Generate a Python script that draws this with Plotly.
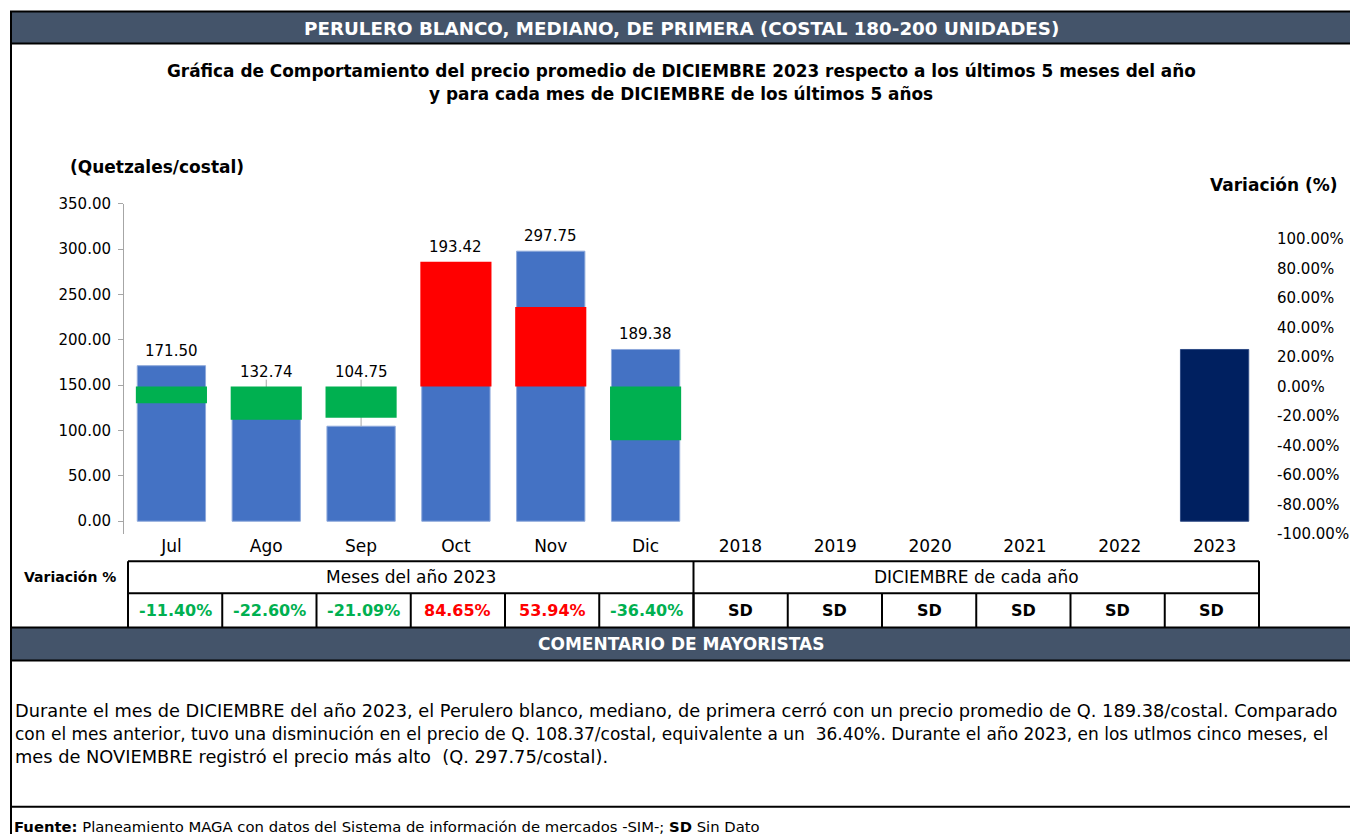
import plotly.graph_objects as go

# ---------------- data ----------------
categories = ["Jul", "Ago", "Sep", "Oct", "Nov", "Dic",
              "2018", "2019", "2020", "2021", "2022", "2023"]
prices = [171.50, 132.74, 104.75, 193.42, 297.75, 189.38,
          None, None, None, None, None, 189.38]
month_variation = [-11.40, -22.60, -21.09, 84.65, 53.94, -36.40]   # %
year_variation_text = ["SD", "SD", "SD", "SD", "SD", "SD"]
y_tick_values = [0, 50, 100, 150, 200, 250, 300, 350]
y2_tick_values = [-100, -80, -60, -40, -20, 0, 20, 40, 60, 80, 100]

header_text = "PERULERO BLANCO, MEDIANO, DE PRIMERA (COSTAL 180-200 UNIDADES)"
title_line1 = "Gráfica de Comportamiento del precio promedio de DICIEMBRE 2023 respecto a los últimos 5 meses del año"
title_line2 = "y para cada mes de DICIEMBRE de los últimos 5 años"
y_title = "(Quetzales/costal)"
y2_title = "Variación (%)"
table_row_title = "Variación %"
table_group1 = "Meses del año 2023"
table_group2 = "DICIEMBRE de cada año"
comment_header = "COMENTARIO DE MAYORISTAS"
comment_lines = [
    "Durante el mes de DICIEMBRE del año 2023, el Perulero blanco, mediano, de primera cerró con un precio promedio de Q. 189.38/costal. Comparado",
    "con el mes anterior, tuvo una disminución en el precio de Q. 108.37/costal, equivalente a un\u00a0 36.40%. Durante el año 2023, en los utlmos cinco meses, el",
    "mes de NOVIEMBRE registró el precio más alto\u00a0 (Q. 297.75/costal).",
]
footer_text = "<b>Fuente:</b> Planeamiento MAGA con datos del Sistema de información de mercados -SIM-; <b>SD</b> Sin Dato"

# ---------------- style ----------------
W, H = 1350, 834
FONT = "DejaVu Sans"
SLATE = "#44546A"
BLUE = "#4472C4"
NAVY = "#002060"
GREEN = "#00B050"
RED = "#FF0000"
AXIS_GRAY = "#A6A6A6"

# the viewer maps figure pixel y to picture y as  9.5 + 0.977*y ; positions below are
# given in picture pixels and converted back here.
V_OFF, V_SCALE = 9.5, 0.977


def px(x):
    return x / W


def py(y):
    return 1 - ((y - V_OFF) / V_SCALE) / H


# plot area (picture pixels)
PLOT_L, PLOT_R = 124, 1262
PLOT_T, PLOT_B = 204, 534
Y_RANGE = [-14.35, 350]
Y2_RANGE = [-100.2, 124.0]

n_months = len(month_variation)

fig = go.Figure()

bar_colors = [BLUE if i < n_months else NAVY for i in range(len(categories))]
line_colors = ["#8EA9DB" if i < n_months else "#2F4B85" for i in range(len(categories))]
fig.add_trace(go.Bar(
    x=categories, y=prices, yaxis="y", width=0.72,
    marker=dict(color=bar_colors, line=dict(color=line_colors, width=1)),
    hoverinfo="skip",
))

var_colors = [GREEN if v < 0 else RED for v in month_variation]
fig.add_trace(go.Bar(
    x=categories[:n_months], y=month_variation, yaxis="y2", width=0.75,
    marker=dict(color=var_colors, line=dict(width=0)),
    hoverinfo="skip",
))


def var_to_primary(v):
    f = (v - Y2_RANGE[0]) / (Y2_RANGE[1] - Y2_RANGE[0])
    return Y_RANGE[0] + f * (Y_RANGE[1] - Y_RANGE[0])


units_per_px = (Y_RANGE[1] - Y_RANGE[0]) / (PLOT_B - PLOT_T)

# data labels and leader lines
lead_x, lead_y = [], []
annotations = []
for i, (c, p) in enumerate(zip(categories, prices)):
    if p is None:
        continue
    base = p
    if i < n_months:
        base = max(p, var_to_primary(max(month_variation[i], 0)))
        if month_variation[i] < 0 and base - p > 5:
            lead_x += [c, c, None]
            lead_y += [p, base + 7 * units_per_px, None]
    annotations.append(dict(
        x=c, y=base, xref="x", yref="y", text=f"{p:.2f}", showarrow=False,
        yanchor="middle", yshift=15, font=dict(family=FONT, size=15, color="#000000"),
    ))

fig.add_trace(go.Scatter(
    x=lead_x, y=lead_y, yaxis="y", mode="lines",
    line=dict(color=AXIS_GRAY, width=1), hoverinfo="skip",
))

# ---------------- shapes ----------------
shapes = []
BLACK_LINE = dict(color="#000000", width=2)
# header bar
shapes.append(dict(type="rect", xref="paper", yref="paper",
                   x0=px(11), x1=px(1352), y0=py(12), y1=py(44),
                   fillcolor=SLATE, line=BLACK_LINE, layer="below"))
# comment header bar
shapes.append(dict(type="rect", xref="paper", yref="paper",
                   x0=px(11), x1=px(1352), y0=py(627), y1=py(660),
                   fillcolor=SLATE, line=BLACK_LINE, layer="below"))
# outer left border
shapes.append(dict(type="line", xref="paper", yref="paper",
                   x0=px(11), x1=px(11), y0=py(12), y1=py(840), line=BLACK_LINE))
# footer line
shapes.append(dict(type="line", xref="paper", yref="paper",
                   x0=px(11), x1=px(1352), y0=py(806), y1=py(806), line=BLACK_LINE))

# table
T_L, T_COL = 128, 94.25
T_TOP, T_MID, T_BOT = 561, 593, 627
n_cols = len(categories)
T_R = T_L + n_cols * T_COL
T_SPLIT = T_L + n_months * T_COL
for yy in (T_TOP, T_MID):
    shapes.append(dict(type="line", xref="paper", yref="paper",
                       x0=px(T_L), x1=px(T_R), y0=py(yy), y1=py(yy), line=BLACK_LINE))
for xx in (T_L, T_SPLIT, T_R):
    shapes.append(dict(type="line", xref="paper", yref="paper",
                       x0=px(xx), x1=px(xx), y0=py(T_TOP), y1=py(T_BOT), line=BLACK_LINE))
for k in range(1, n_cols):
    xx = T_L + k * T_COL
    shapes.append(dict(type="line", xref="paper", yref="paper",
                       x0=px(xx), x1=px(xx), y0=py(T_MID), y1=py(T_BOT), line=BLACK_LINE))


def text_ann(text, x, y, size, bold=False, color="#000000", xanchor="center"):
    return dict(xref="paper", yref="paper", x=px(x), y=py(y), text=(f"<b>{text}</b>" if bold else text),
                showarrow=False, xanchor=xanchor, yanchor="middle",
                font=dict(family=FONT, size=size, color=color))


annotations.append(text_ann(header_text, 681, 29, 18.3, bold=True, color="#FFFFFF"))
annotations.append(text_ann(title_line1, 681, 71, 16.9, bold=True))
annotations.append(text_ann(title_line2, 681, 94, 16.9, bold=True))
annotations.append(text_ann(y_title, 68, 167, 17, bold=True, xanchor="left"))
annotations.append(text_ann(y2_title, 1208, 185, 17, bold=True, xanchor="left"))
annotations.append(text_ann(table_row_title, 70, 577, 14, bold=True))
annotations.append(text_ann(table_group1, (T_L + T_SPLIT) / 2, 577, 17))
annotations.append(text_ann(table_group2, (T_SPLIT + T_R) / 2, 577, 17))
for i, v in enumerate(month_variation):
    cx = T_L + (i + 0.5) * T_COL
    annotations.append(text_ann(f"{v:.2f}%", cx, 610, 16, bold=True,
                                color=(GREEN if v < 0 else RED)))
for j, t in enumerate(year_variation_text):
    cx = T_L + (n_months + j + 0.5) * T_COL
    annotations.append(text_ann(t, cx, 610, 16, bold=True))
annotations.append(text_ann(comment_header, 681, 644, 17, bold=True, color="#FFFFFF"))
comment_sizes = [17.8, 17.0, 17.8]
for k, line in enumerate(comment_lines):
    annotations.append(text_ann(line, 13, 710 + 23 * k, comment_sizes[k], xanchor="left"))
annotations.append(text_ann(footer_text, 12, 826, 14.8, xanchor="left"))

fig.update_layout(
    width=W, height=H,
    margin=dict(l=0, r=0, t=0, b=0),
    paper_bgcolor="#FFFFFF", plot_bgcolor="#FFFFFF",
    showlegend=False, barmode="overlay",
    font=dict(family=FONT, color="#000000"),
    xaxis=dict(
        domain=[px(PLOT_L), px(PLOT_R)], type="category",
        categoryorder="array", categoryarray=categories,
        range=[-0.5, len(categories) - 0.5],
        showline=False, showgrid=False, zeroline=False, ticks="",
        tickfont=dict(family=FONT, size=17, color="#000000"), anchor="y",
    ),
    yaxis=dict(
        domain=[py(PLOT_B), py(PLOT_T)], range=Y_RANGE,
        tickvals=y_tick_values, ticktext=[f"{v:.2f}" for v in y_tick_values],
        showline=True, linecolor=AXIS_GRAY, linewidth=1,
        ticks="outside", ticklen=5, tickcolor=AXIS_GRAY,
        ticklabelstandoff=4,
        showgrid=False, zeroline=False,
        tickfont=dict(family=FONT, size=15, color="#000000"),
    ),
    yaxis2=dict(
        overlaying="y", side="right", anchor="free", position=px(1276),
        range=Y2_RANGE, tickvals=y2_tick_values,
        ticktext=[f"{v:.2f}%" for v in y2_tick_values],
        showline=False, ticks="", showgrid=False, zeroline=False,
        tickfont=dict(family=FONT, size=15, color="#000000"),
    ),
    shapes=shapes,
    annotations=annotations,
)

POST = (
    "document.documentElement.style.margin='0';"
    "document.documentElement.style.padding='0';"
    "document.body.style.margin='0';"
    "document.body.style.padding='0';"
    "document.body.style.overflow='hidden';"
    "document.querySelectorAll('.main-svg').forEach(function(s){s.style.overflow='visible';});"
)

fig.write_html(
    "out.html",
    config={"displayModeBar": False},
    post_script=POST,
)
